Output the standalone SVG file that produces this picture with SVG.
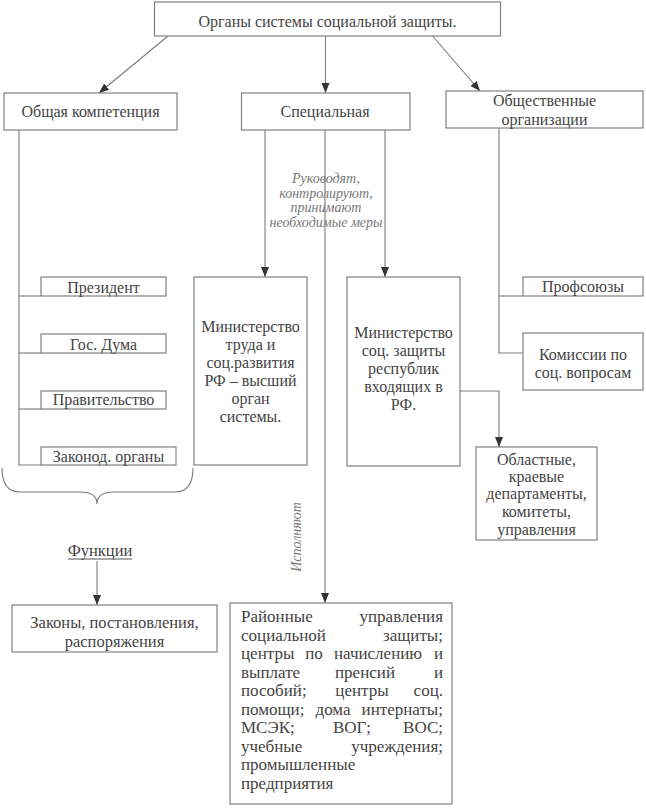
<svg xmlns="http://www.w3.org/2000/svg" width="646" height="808" viewBox="0 0 646 808" font-family="Liberation Serif, Times New Roman, serif">
<defs>
<marker id="arr" markerUnits="userSpaceOnUse" markerWidth="10" markerHeight="10" viewBox="0 0 10 10" refX="10" refY="5" orient="auto">
<path d="M0,1 L10,5 L0,9 Z" fill="#333"/>
</marker>
<style>
.box{fill:#fff;stroke:#808080;stroke-width:1.2}
.ln{fill:none;stroke:#7a7a7a;stroke-width:1.1}
.t{fill:#444;text-anchor:middle}
.s16{font-size:16px}
.it{font-style:italic;fill:#777;font-size:14px;text-anchor:middle}
.j{fill:#444;font-size:17px}
</style>
</defs>
<rect width="646" height="808" fill="#fff"/>

<g id="connectors">
<line class="ln" x1="168" y1="36" x2="99" y2="93" marker-end="url(#arr)"/>
<line class="ln" x1="325.5" y1="36" x2="325.5" y2="93" marker-end="url(#arr)"/>
<line class="ln" x1="432.6" y1="36" x2="480" y2="91" marker-end="url(#arr)"/>
<polyline class="ln" points="19,130 19,465 41,465"/>
<line class="ln" x1="19" y1="296" x2="41" y2="296"/>
<line class="ln" x1="19" y1="353" x2="41" y2="353"/>
<line class="ln" x1="19" y1="409" x2="41" y2="409"/>
<line class="ln" x1="265" y1="130" x2="265" y2="277" marker-end="url(#arr)"/>
<line class="ln" x1="325" y1="130" x2="325" y2="603" marker-end="url(#arr)"/>
<line class="ln" x1="385" y1="130" x2="385" y2="277" marker-end="url(#arr)"/>
<polyline class="ln" points="499,128 499,353 523,353"/>
<line class="ln" x1="499" y1="296" x2="523" y2="296"/>
<polyline class="ln" points="460,391 499,391 499,447" marker-end="url(#arr)"/>
<path class="ln" d="M2,468 Q2,492 20,492 L80,492 Q97,492 97,504 Q97,492 114,492 L175,492 Q193,492 193,468"/>
<line class="ln" x1="97" y1="561" x2="97" y2="605" marker-end="url(#arr)"/>
</g>

<g id="labels">
<text class="it"><tspan x="326" y="183">Руководят,</tspan><tspan x="326" y="197.5">контролируют,</tspan><tspan x="326" y="212">принимают</tspan><tspan x="326" y="226.5">необходимые меры</tspan></text>
<text class="it" transform="translate(301,537) rotate(-90)" x="0" y="0">Исполняют</text>
<text class="t" x="100" y="556" style="font-size:16.5px">Функции</text>
<line x1="68" y1="559" x2="132" y2="559" stroke="#555" stroke-width="1"/>
</g>

<g id="root">
<rect class="box" x="154.5" y="2" width="346" height="34"/>
<text class="t s16" x="327.5" y="27">Органы системы социальной защиты.</text>
</g>

<g id="general">
<rect class="box" x="4" y="93" width="173" height="37"/>
<text class="t s16" x="90.5" y="117">Общая компетенция</text>
</g>
<g id="special">
<rect class="box" x="241.5" y="93" width="168.5" height="37"/>
<text class="t s16" x="325" y="117">Специальная</text>
</g>
<g id="public">
<rect class="box" x="446" y="91" width="197" height="37"/>
<text class="t s16" x="544.5" y="106">Общественные</text>
<text class="t s16" x="544.5" y="125">организации</text>
</g>

<g id="president">
<rect class="box" x="41" y="277" width="125" height="19"/>
<text class="t s16" x="103.5" y="293">Президент</text>
</g>
<g id="duma">
<rect class="box" x="41" y="334" width="125" height="19"/>
<text class="t s16" x="103.5" y="350">Гос. Дума</text>
</g>
<g id="government">
<rect class="box" x="41" y="391" width="125" height="18"/>
<text class="t s16" x="103.5" y="405">Правительство</text>
</g>
<g id="legislative">
<rect class="box" x="41" y="447" width="135" height="18"/>
<text class="t s16" x="108.5" y="462">Законод. органы</text>
</g>

<g id="ministry-labour">
<rect class="box" x="194" y="277" width="113" height="188"/>
<text class="t s16"><tspan x="250.5" y="332">Министерство</tspan><tspan x="250.5" y="350">труда и</tspan><tspan x="250.5" y="368">соц.развития</tspan><tspan x="250.5" y="386">РФ – высший</tspan><tspan x="250.5" y="404">орган</tspan><tspan x="250.5" y="422">системы.</tspan></text>
</g>
<g id="ministry-republics">
<rect class="box" x="347" y="277" width="113" height="189"/>
<text class="t s16"><tspan x="403.5" y="338">Министерство</tspan><tspan x="403.5" y="356">соц. защиты</tspan><tspan x="403.5" y="374">республик</tspan><tspan x="403.5" y="392">входящих в</tspan><tspan x="403.5" y="410">РФ.</tspan></text>
</g>

<g id="unions">
<rect class="box" x="523" y="277" width="120" height="19"/>
<text class="t s16" x="583" y="292">Профсоюзы</text>
</g>
<g id="commissions">
<rect class="box" x="523" y="333" width="120" height="57"/>
<text class="t s16" x="583" y="360">Комиссии по</text>
<text class="t s16" x="583" y="378">соц. вопросам</text>
</g>
<g id="regional">
<rect class="box" x="476" y="447" width="121" height="93"/>
<text class="t s16"><tspan x="536.5" y="465">Областные,</tspan><tspan x="536.5" y="482">краевые</tspan><tspan x="536.5" y="499">департаменты,</tspan><tspan x="536.5" y="517">комитеты,</tspan><tspan x="536.5" y="535">управления</tspan></text>
</g>

<g id="laws">
<rect class="box" x="12" y="605" width="205" height="47"/>
<text class="t" style="font-size:16.5px" x="114.5" y="628">Законы, постановления,</text>
<text class="t" style="font-size:16.5px" x="114.5" y="647">распоряжения</text>
</g>

<g id="district">
<rect class="box" x="230" y="603" width="222" height="201"/>
<text class="j"><tspan x="241" y="622">Районные</tspan><tspan x="443" text-anchor="end">управления</tspan></text>
<text class="j"><tspan x="241" y="640.5">социальной</tspan><tspan x="443" text-anchor="end">защиты;</tspan></text>
<text class="j"><tspan x="241" y="659">центры</tspan><tspan x="314" text-anchor="middle">по</tspan><tspan x="378" text-anchor="middle">начислению</tspan><tspan x="443" text-anchor="end">и</tspan></text>
<text class="j"><tspan x="241" y="677.5">выплате</tspan><tspan x="365" text-anchor="middle">пренсий</tspan><tspan x="443" text-anchor="end">и</tspan></text>
<text class="j"><tspan x="241" y="696">пособий;</tspan><tspan x="362" text-anchor="middle">центры</tspan><tspan x="443" text-anchor="end">соц.</tspan></text>
<text class="j"><tspan x="241" y="714.5">помощи;</tspan><tspan x="333" text-anchor="middle">дома</tspan><tspan x="443" text-anchor="end">интернаты;</tspan></text>
<text class="j"><tspan x="241" y="733">МСЭК;</tspan><tspan x="352" text-anchor="middle">ВОГ;</tspan><tspan x="443" text-anchor="end">ВОС;</tspan></text>
<text class="j"><tspan x="241" y="751.5">учебные</tspan><tspan x="443" text-anchor="end">учреждения;</tspan></text>
<text class="j" x="241" y="770">промышленные</text>
<text class="j" x="241" y="788.5">предприятия</text>
</g>
</svg>
